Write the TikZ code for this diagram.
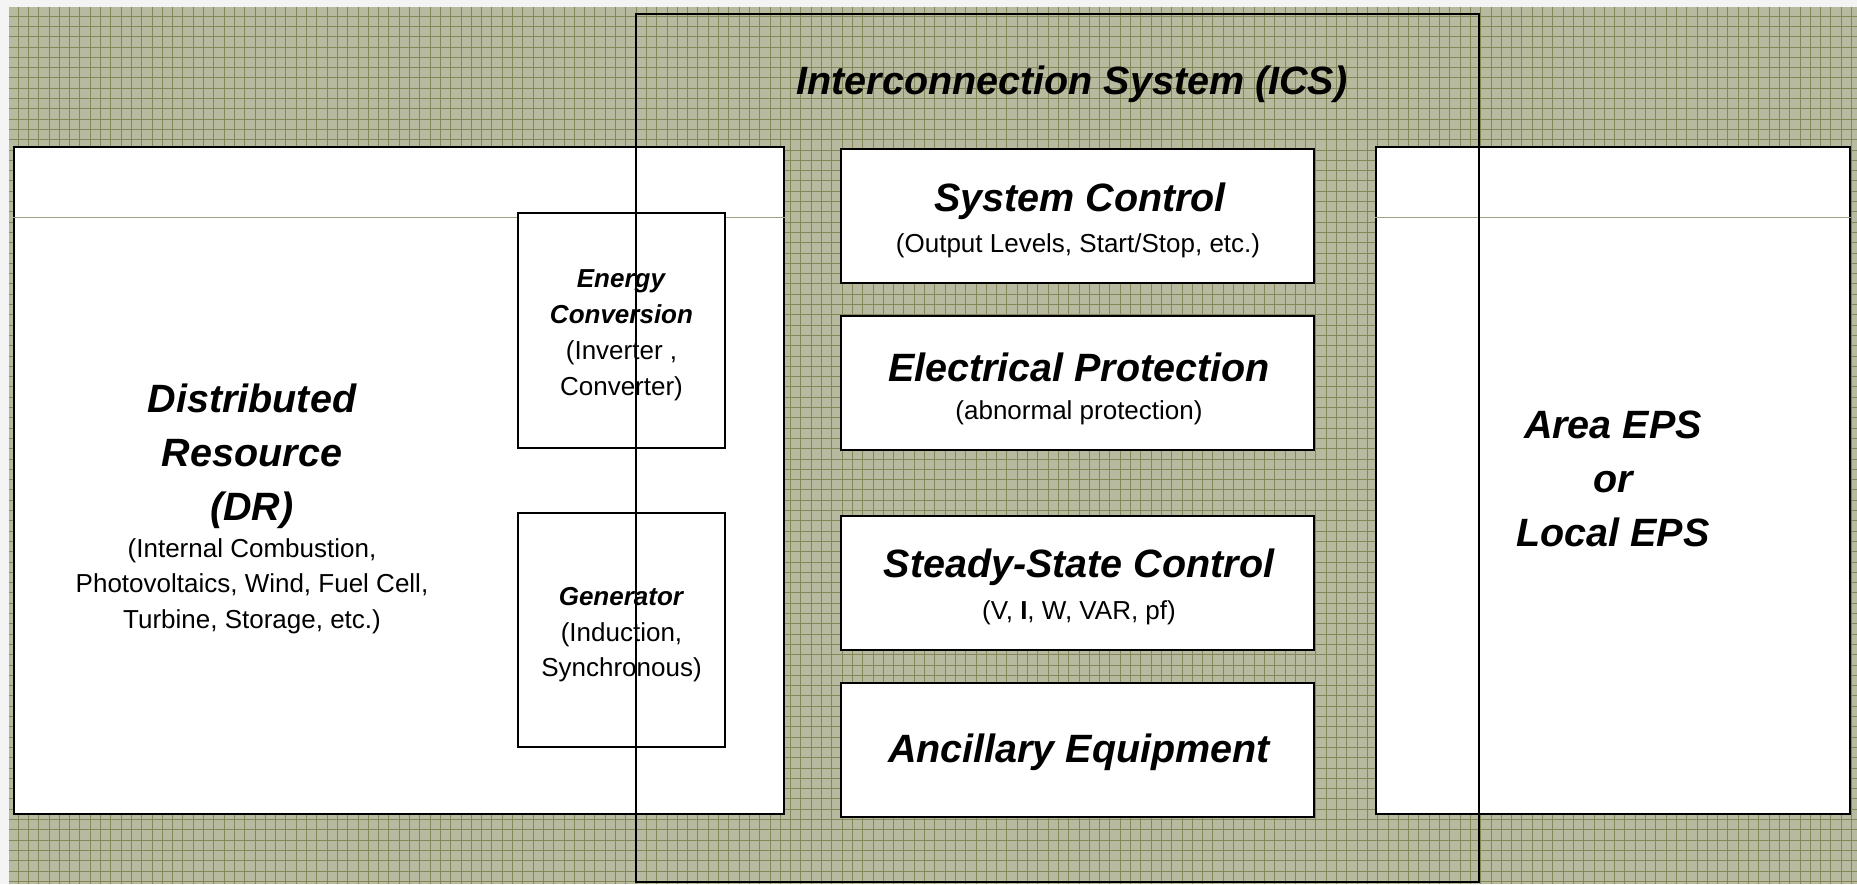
\documentclass[tikz,border=0pt]{standalone}
\usepackage{fontspec}
\setmainfont{Liberation Sans}
\definecolor{gridfill}{RGB}{184,186,160}
\definecolor{gridline}{RGB}{132,136,88}
\definecolor{thinline}{RGB}{160,162,128}
\definecolor{outerbg}{RGB}{244,244,244}
\begin{document}
\begin{tikzpicture}[x=1pt,y=-1pt,
  box/.style={draw=black, line width=2.6pt, fill=white, inner sep=0pt},
  frame/.style={draw=black, line width=2.4pt, inner sep=0pt},
  big/.style={font=\fontsize{39.5}{54}\selectfont\bfseries\itshape, align=center, inner sep=0pt},
  small/.style={font=\fontsize{26}{35.7}\selectfont, align=center, inner sep=0pt},
]
\useasboundingbox (0,0) rectangle (1857,884);
\fill[outerbg] (0,0) rectangle (1857,884);
\fill[gridfill] (9,7) rectangle (1857,884);
\foreach \i in {0,...,180} \draw[gridline, line width=0.8pt] (18+\i*10.3,7) -- ++(0,877);
\foreach \j in {0,...,85} \draw[gridline, line width=0.8pt] (9,16+\j*10.3) -- ++(1848,0);

% outer boxes
\node[box, minimum width=770pt, minimum height=667pt] (dr) at (399,480.5) {};
\node[box, minimum width=474pt, minimum height=667pt] (area) at (1613,480.5) {};
\draw[thinline, line width=0.9pt] (dr.west |- 0,217) -- (dr.east |- 0,217);
\draw[thinline, line width=0.9pt] (area.west |- 0,217) -- (area.east |- 0,217);

% DR content
\node[box, line width=2.2pt, minimum width=207pt, minimum height=235pt] (conv) at (621.5,330.5) {};
\node[box, line width=2.2pt, minimum width=207pt, minimum height=234pt] (gen) at (621.5,630) {};
\node[small] (convtext) at ([yshift=-4.7pt]conv.center) {\textbf{\textit{Energy}}\\\textbf{\textit{Conversion}}\\(Inverter ,\\Converter)};
\node[small] (gentext) at ([yshift=-4.7pt]gen.center) {\textbf{\textit{Generator}}\\(Induction,\\Synchronous)};
\node[big] (drtitle) at (252,456) {Distributed\\Resource\\(DR)};
\node[small] (drtext) at (252,586) {(Internal Combustion,\\Photovoltaics, Wind, Fuel Cell,\\Turbine, Storage, etc.)};
\node[big] (areatext) at (1613,478.5) {Area EPS\\or\\Local EPS};

% ICS frame
\node[frame, minimum width=843pt, minimum height=868pt] (ics) at (1057.5,448) {};
\node[big] (icstitle) at (1072,84.5) {Interconnection System (ICS)};

% ICS boxes
\node[box, minimum width=473pt, minimum height=134pt] (sc) at (1077.5,216) {};
\node[box, minimum width=473pt, minimum height=134pt] (ep) at (1077.5,383) {};
\node[box, minimum width=473pt, minimum height=134pt] (ss) at (1077.5,583) {};
\node[box, minimum width=473pt, minimum height=134pt] (ae) at (1077.5,750) {};
\node[big] (sct) at (1080,201.5) {System Control};
\node[small] (scs) at (1078,245.5) {(Output Levels, Start/Stop, etc.)};
\node[big] (ept) at (1079,367.5) {Electrical Protection};
\node[small] (eps) at (1079,412.5) {(abnormal protection)};
\node[big] (sst) at (1079,567.5) {Steady-State Control};
\node[small] (sss) at (1079,612.5) {(V, \textbf{I}, W, VAR, pf)};
\node[big] (aet) at (1079,752) {Ancillary Equipment};
\end{tikzpicture}
\end{document}
